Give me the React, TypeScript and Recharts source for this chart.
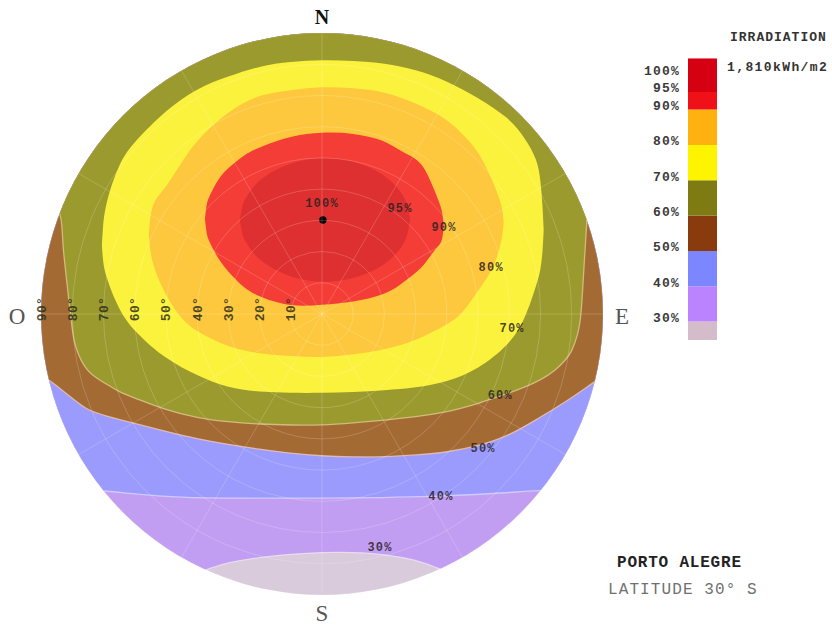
import React from 'react';
import {
  ComposedChart, Area, Scatter, XAxis, YAxis,
  RadarChart, Radar, PolarGrid, PolarAngleAxis, PolarRadiusAxis,
  BarChart, Bar,
} from 'recharts';

const W = 832;
const H = 626;
const CX = 322;
const CY = 314;
const R = 281;
const K = R / 90; // px per degree of zenith angle

const MONO = '"Liberation Mono", "DejaVu Sans Mono", monospace';
const SERIF = '"Liberation Serif", "DejaVu Serif", serif';

// sky dome, degrees from zenith: x = west(-) / east(+), y = south(-) / north(+)
// rows: [x, lower edge, upper edge] of the region at or above the level
const sky = [[-95, -95, 95], [95, -95, 95]];

const contour30 = [
  [-91, -95, 95], [-60, -88.5, 95], [-45, -85.0, 95], [-35, -81.1, 95],
  [-30, -79.6, 95], [-20, -77.9, 95], [-10, -76.9, 95], [0, -76.3, 95],
  [10, -76.3, 95], [20, -76.9, 95], [30, -78.8, 95], [35, -80.6, 95],
  [45, -84.5, 95], [60, -88.5, 95], [91, -95, 95],
];

const contour40 = [
  [-91, -55.5, 95], [-70, -56.5, 95], [-60, -57.7, 95], [-45, -58.9, 95],
  [-20, -59.0, 95], [0, -59.0, 95], [20, -58.8, 95], [35, -58.5, 95],
  [50, -57.8, 95], [60, -57.2, 95], [70, -56.4, 95], [91, -55.5, 95],
];

const contour50 = [
  [-91, -19.5, 95], [-87.2, -21.2, 95], [-85, -23.0, 95], [-80, -27.0, 95],
  [-75, -30.9, 95], [-70, -32.4, 95], [-60, -35.1, 95], [-50, -37.6, 95],
  [-40, -40.0, 95], [-30, -41.8, 95], [-20, -43.3, 95], [-10, -44.6, 95],
  [0, -45.5, 95], [10, -45.8, 95], [20, -45.8, 95], [30, -45.2, 95],
  [40, -44.3, 95], [50, -42.3, 95], [60, -39.0, 95], [70, -33.0, 95],
  [75, -30.0, 95], [80, -26.8, 95], [85, -23.3, 95], [88, -21.2, 95],
  [91, -19.5, 95],
];

const contour60 = [
  [-84.0, 32.1, 95], [-83.3, 29.5, 95], [-83.0, 21.5, 95], [-82.0, 12.8, 95],
  [-81.0, 3.5, 95], [-80.0, -4.9, 95], [-79.2, -10.6, 95], [-75.3, -18.9, 95],
  [-70, -21.8, 95], [-65, -25.0, 95], [-60, -26.9, 95], [-50, -30.8, 95],
  [-40, -33.3, 95], [-30, -34.6, 95], [-20, -35.3, 95], [-10, -35.6, 95],
  [0, -35.6, 95], [10, -34.9, 95], [20, -34.0, 95], [30, -33.0, 95],
  [40, -31.4, 95], [45, -30.1, 95], [50, -28.7, 95], [55, -26.9, 95],
  [60, -25.3, 95], [65, -23.4, 95], [70, -21.2, 95], [75, -17.9, 95],
  [78, -14.7, 95], [80, -12.2, 95], [82, -6.4, 95], [83, -1.3, 95],
  [84, 17.0, 95], [85, 32.4, 95],
];

const contour70 = [
  [-70.5, 22.1, 22.1], [-70.2, 17.5, 27.5], [-69.5, 12.5, 34.9], [-65, 1.0, 48.7],
  [-60, -5.7, 55.3], [-50, -14.6, 65.4], [-40, -19.7, 72.4], [-30, -23.8, 76.1],
  [-20, -25.0, 79.5], [-10, -25.3, 80.8], [0, -25.3, 81.4], [10, -25.0, 81.1],
  [20, -24.4, 80.4], [30, -23.7, 78.3], [40, -21.8, 74.7], [50, -17.8, 69.3],
  [60, -9.9, 62.8], [65, -1.9, 56.4], [69, 10.3, 49.4], [70, 14.1, 42.9],
  [70.7, 20.0, 34.0], [71, 26.9, 26.9],
];

const contour80 = [
  [-55.5, 25.6, 25.6], [-55.1, 20.6, 30.6], [-54, 14.7, 36.5], [-50, 5.8, 40.4],
  [-45, -1.8, 48.6], [-40, -5.8, 55.9], [-30, -10.7, 65.1], [-20, -12.8, 70.5],
  [-10, -13.5, 71.7], [0, -14.0, 72.9], [10, -13.0, 72.4], [20, -11.5, 71.3],
  [30, -8.6, 67.6], [40, -3.5, 62.6], [45, 0.0, 57.6], [50, 7.5, 52.6],
  [55, 14.5, 42.0], [57, 21.5, 36.5], [57.8, 25.0, 33.5], [58.2, 29.5, 29.5],
];

const contour90 = [
  [-37.5, 30.5, 30.5], [-37.0, 26.0, 35.0], [-36.5, 23.8, 37.0], [-33, 17.2, 43.8],
  [-30, 13.5, 46.8], [-25, 8.3, 51.0], [-20, 5.4, 53.5], [-10, 2.2, 57.1],
  [0, 2.9, 58.3], [10, 3.8, 58.0], [20, 6.1, 55.8], [25, 9.3, 52.2],
  [30, 13.1, 50.0], [33, 16.0, 46.8], [36, 20.5, 39.7], [38, 22.5, 34.6],
  [38.6, 24.2, 32.2], [39, 28.2, 28.2],
];

const contour95 = [
  [-26.3, 30.1, 30.1], [-25.6, 25.6, 34.6], [-25, 24.0, 36.2], [-22, 19.2, 41.0],
  [-18, 15.7, 44.6], [-10, 11.5, 48.7], [0, 9.9, 50.3], [10, 11.1, 49.2],
  [18, 14.4, 45.8], [23, 18.3, 42.0], [26, 22.1, 38.1], [27.5, 25.5, 34.7],
  [28.2, 30.1, 30.1],
];

const levelTags = [
  { x: 0, y: 35.3, tag: '100%' },
  { x: 25, y: 33.7, tag: '95%' },
  { x: 39.1, y: 27.6, tag: '90%' },
  { x: 54.2, y: 14.7, tag: '80%' },
  { x: 60.9, y: -4.8, tag: '70%' },
  { x: 57.1, y: -26.3, tag: '60%' },
  { x: 51.6, y: -43.3, tag: '50%' },
  { x: 38.1, y: -58.7, tag: '40%' },
  { x: 18.6, y: -75.0, tag: '30%' },
];
const peak = [{ x: 0.3, y: 30.1 }];

const azimuths = ['N', '30', '60', 'E', '120', '150', 'S', '210', '240', 'O', '300', '330'];
const ringTicks = [10, 20, 30, 40, 50, 60, 70, 80, 90];

// legend: band widths in %, bottom to top
const legendSizes = [30, 10, 10, 10, 10, 10, 10, 5, 9.5];
const legendColors = ['#d4bccb', '#bb83ff', '#7c87ff', '#8a3b0e', '#7e7b13', '#fff400', '#ffb20f', '#ef1018', '#d50012'];
const legendTicks = [30, 40, 50, 60, 70, 80, 90, 95, 100];

const bands = [
  { id: 'sky', pts: sky, fill: '#d9cadc' },
  { id: 'c30', pts: contour30, fill: '#c29ef2', line: '#ede3f5' },
  { id: 'c40', pts: contour40, fill: '#9a9bfc', line: '#d8d6ff' },
  { id: 'c50', pts: contour50, fill: '#a36a34', line: '#efc6b4' },
  { id: 'c60', pts: contour60, fill: '#9b9a2e', line: '#e0c890' },
  { id: 'c70', pts: contour70, fill: '#fbf23d' },
  { id: 'c80', pts: contour80, fill: '#fdc83d' },
  { id: 'c90', pts: contour90, fill: '#f43d37' },
  { id: 'c95', pts: contour95, fill: '#de3030' },
];

const toRows = (pts: number[][]) => pts.map(([x, lo, hi]) => ({ x, y: [lo, hi] }));

const legendRow = [
  legendSizes.reduce((row: any, v, i) => ({ ...row, [`s${i}`]: v }), { name: 'irr' }),
];

const compass: Record<string, { d: number; dy: number; size: number; weight: string; color: string }> = {
  N: { d: 297, dy: 0, size: 20, weight: 'bold', color: '#111' },
  E: { d: 300, dy: 2, size: 23, weight: 'normal', color: '#555' },
  S: { d: 299, dy: 0, size: 23, weight: 'normal', color: '#555' },
  O: { d: 305, dy: 2, size: 23, weight: 'normal', color: '#555' },
};

const renderCompass = (props: any) => {
  const c = compass[props.payload?.value];
  if (!c) return <g />;
  const dx = props.x - CX;
  const dy = props.y - CY;
  const len = Math.hypot(dx, dy) || 1;
  return (
    <text
      x={CX + (dx / len) * c.d}
      y={CY + (dy / len) * c.d + c.dy}
      textAnchor="middle"
      dominantBaseline="central"
      fontFamily={SERIF}
      fontSize={c.size}
      fontWeight={c.weight}
      fill={c.color}
    >
      {props.payload.value}
    </text>
  );
};

const renderRing = (props: any) => {
  const x = props.x + 1;
  const y = props.y - 5;
  return (
    <text
      x={x}
      y={y}
      transform={`rotate(-90 ${x} ${y})`}
      textAnchor="middle"
      dominantBaseline="central"
      fontFamily={MONO}
      fontWeight="bold"
      fontSize={13}
      letterSpacing={0.3}
      fill="#2d2d1a"
      fillOpacity={0.85}
    >
      {`${props.payload.value}°`}
    </text>
  );
};

const renderTag = (props: any) => (
  <text
    x={props.cx}
    y={props.cy}
    textAnchor="middle"
    dominantBaseline="central"
    fontFamily={MONO}
    fontWeight="bold"
    fontSize={12}
    letterSpacing={1.2}
    fill="#2b2222"
    fillOpacity={0.85}
  >
    {props.payload.tag}
  </text>
);

const renderPeak = (props: any) => <circle cx={props.cx} cy={props.cy} r={3.7} fill="#000" />;

const renderLegendTick = (props: any) => (
  <text
    x={props.x}
    y={props.y - 3}
    textAnchor="end"
    dominantBaseline="central"
    fontFamily={MONO}
    fontWeight="bold"
    fontSize={13}
    letterSpacing={1.2}
    fill="#3a3a3a"
  >
    {`${props.payload.value}%`}
  </text>
);

export default function App() {
  return (
    <div style={{ position: 'absolute', left: 0, top: 0, width: W, height: H, background: '#fff', overflow: 'hidden' }}>
      <div style={{ position: 'absolute', left: 0, top: 0, width: W, height: H, clipPath: `circle(${R}px at ${CX}px ${CY}px)` }}>
        <ComposedChart width={W} height={H} margin={{ top: 0, right: 0, bottom: 0, left: 0 }}>
          <XAxis type="number" dataKey="x" domain={[-CX / K, (W - CX) / K]} allowDataOverflow hide />
          <YAxis type="number" dataKey="y" domain={[(CY - H) / K, CY / K]} allowDataOverflow hide />
          {bands.map((b) => (
            <Area
              key={b.id}
              data={toRows(b.pts)}
              dataKey="y"
              type="basis"
              fill={b.fill}
              fillOpacity={1}
              stroke={b.line || 'none'}
              strokeWidth={1.3}
              strokeOpacity={0.8}
              dot={false}
              activeDot={false}
              isAnimationActive={false}
            />
          ))}
          <Scatter data={levelTags} dataKey="y" shape={renderTag} isAnimationActive={false} />
          <Scatter data={peak} dataKey="y" shape={renderPeak} isAnimationActive={false} />
        </ComposedChart>
      </div>

      <div style={{ position: 'absolute', left: 0, top: 0 }}>
        <RadarChart
          width={W}
          height={H}
          cx={CX}
          cy={CY}
          innerRadius={0}
          outerRadius={R}
          data={azimuths.map((dir) => ({ dir, zero: 0 }))}
          margin={{ top: 0, right: 0, bottom: 0, left: 0 }}
        >
          <PolarGrid gridType="circle" stroke="#ffffff" strokeOpacity={0.18} />
          <PolarAngleAxis dataKey="dir" tick={renderCompass} tickLine={false} axisLine={false} />
          <PolarRadiusAxis
            angle={180}
            type="number"
            domain={[0, 90]}
            ticks={ringTicks}
            tick={renderRing}
            axisLine={false}
            tickLine={false}
          />
          <Radar dataKey="zero" fill="none" stroke="none" dot={false} isAnimationActive={false} />
        </RadarChart>
      </div>

      <div style={{ position: 'absolute', left: 620, top: 40 }}>
        <BarChart
          width={100}
          height={310}
          data={legendRow}
          margin={{ top: 18.3, right: 3, bottom: 10, left: 0 }}
          barCategoryGap={0}
        >
          <XAxis dataKey="name" hide />
          <YAxis
            type="number"
            domain={[24.8, 104.5]}
            allowDataOverflow
            ticks={legendTicks}
            interval={0}
            width={68}
            tick={renderLegendTick}
            tickLine={false}
            axisLine={false}
          />
          {legendColors.map((c, i) => (
            <Bar key={i} dataKey={`s${i}`} stackId="irr" fill={c} isAnimationActive={false} />
          ))}
        </BarChart>
      </div>

      <svg width={W} height={H} style={{ position: 'absolute', left: 0, top: 0, pointerEvents: 'none' }}>
        <text x={730} y={37} dominantBaseline="central" fontFamily={MONO} fontWeight="bold" fontSize={13} letterSpacing={1.0} fill="#333">
          IRRADIATION
        </text>
        <text x={727} y={67} dominantBaseline="central" fontFamily={MONO} fontWeight="bold" fontSize={13} letterSpacing={1.4} fill="#333">
          1,810kWh/m2
        </text>
        <text x={617} y={563} dominantBaseline="central" fontFamily={MONO} fontWeight="bold" fontSize={16} letterSpacing={0.8} fill="#222">
          PORTO ALEGRE
        </text>
        <text x={608} y={590} dominantBaseline="central" fontFamily={MONO} fontSize={16} letterSpacing={1.1} fill="#707070">
          LATITUDE 30° S
        </text>
      </svg>
    </div>
  );
}
